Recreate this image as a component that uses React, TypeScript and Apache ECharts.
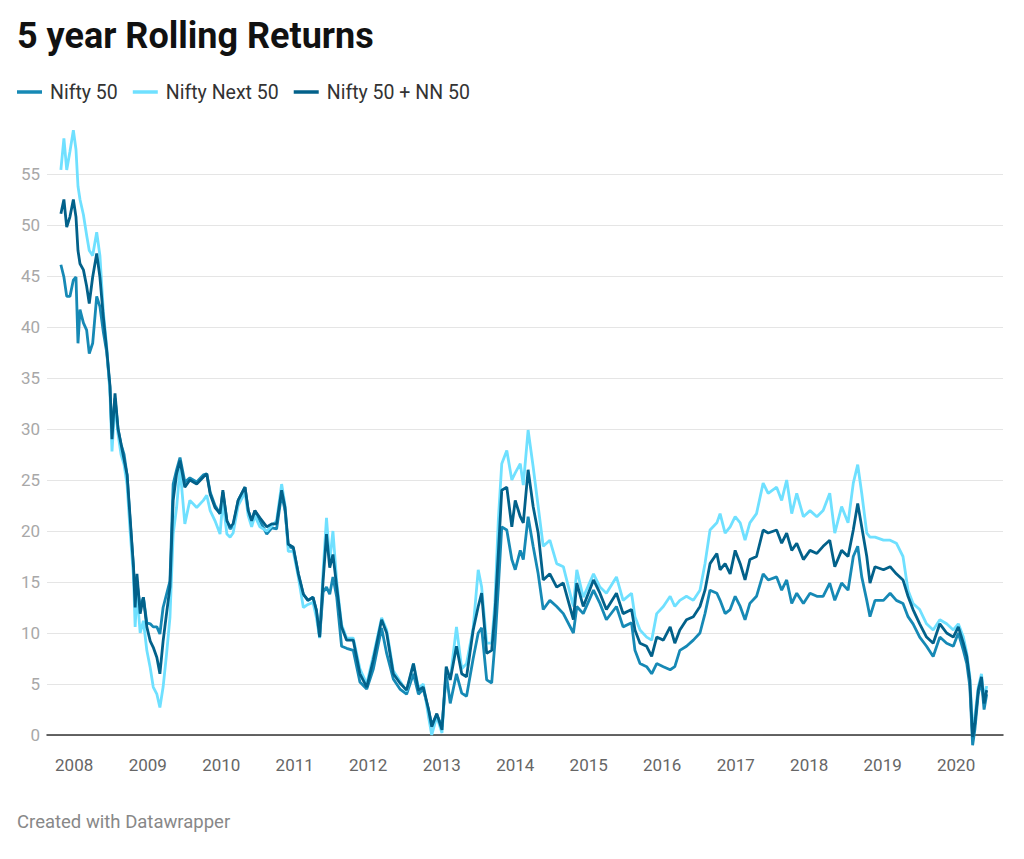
import { useEffect, useRef } from "react";
import * as echarts from "echarts";

const dates = [
  "2007-10-27", "2007-11-11", "2007-11-25", "2007-12-11", "2007-12-28", "2008-01-10", "2008-01-20", "2008-01-30",
  "2008-02-16", "2008-03-03", "2008-03-16", "2008-04-02", "2008-04-22", "2008-05-08", "2008-05-25", "2008-06-11",
  "2008-06-27", "2008-07-07", "2008-07-22", "2008-08-06", "2008-08-21", "2008-09-05", "2008-09-20", "2008-10-05",
  "2008-10-22", "2008-10-30", "2008-11-08", "2008-11-24", "2008-12-10", "2008-12-27", "2009-01-13", "2009-01-28",
  "2009-02-15", "2009-03-02", "2009-03-18", "2009-04-04", "2009-04-21", "2009-05-07", "2009-05-24", "2009-06-10",
  "2009-07-04", "2009-07-29", "2009-09-01", "2009-10-04", "2009-10-21", "2009-11-07", "2009-12-01", "2009-12-26",
  "2010-01-09", "2010-01-29", "2010-02-14", "2010-03-01", "2010-03-26", "2010-04-29", "2010-05-15", "2010-06-01",
  "2010-06-17", "2010-07-12", "2010-08-15", "2010-09-09", "2010-10-03", "2010-10-28", "2010-11-14", "2010-11-30",
  "2010-12-25", "2011-01-19", "2011-02-13", "2011-03-08", "2011-04-02", "2011-04-19", "2011-05-05", "2011-05-22",
  "2011-06-08", "2011-06-24", "2011-07-10", "2011-07-29", "2011-08-22", "2011-09-16", "2011-10-19", "2011-11-21",
  "2011-12-25", "2012-01-27", "2012-03-08", "2012-04-02", "2012-05-05", "2012-06-07", "2012-07-10", "2012-08-13",
  "2012-09-07", "2012-10-01", "2012-10-27", "2012-11-12", "2012-12-07", "2013-01-02", "2013-01-23", "2013-02-12",
  "2013-03-15", "2013-04-10", "2013-05-04", "2013-06-06", "2013-07-01", "2013-07-18", "2013-08-12", "2013-09-06",
  "2013-09-22", "2013-10-09", "2013-10-26", "2013-11-20", "2013-12-15", "2014-01-01", "2014-01-26", "2014-02-10",
  "2014-03-06", "2014-03-31", "2014-04-25", "2014-05-20", "2014-06-22", "2014-07-26", "2014-08-28", "2014-10-17",
  "2014-11-03", "2014-12-05", "2015-01-25", "2015-02-26", "2015-03-30", "2015-05-19", "2015-06-21", "2015-08-02",
  "2015-08-19", "2015-09-13", "2015-10-16", "2015-11-10", "2015-12-05", "2016-01-07", "2016-02-10", "2016-03-04",
  "2016-03-29", "2016-05-01", "2016-06-04", "2016-07-07", "2016-08-01", "2016-08-26", "2016-09-29", "2016-10-15",
  "2016-11-09", "2016-12-04", "2016-12-29", "2017-01-23", "2017-02-16", "2017-03-12", "2017-04-14", "2017-05-17",
  "2017-06-11", "2017-07-23", "2017-08-17", "2017-09-11", "2017-10-06", "2017-10-31", "2017-12-03", "2018-01-05",
  "2018-02-08", "2018-03-11", "2018-04-13", "2018-05-08", "2018-06-11", "2018-07-13", "2018-08-08", "2018-08-30",
  "2018-09-19", "2018-10-14", "2018-10-30", "2018-11-24", "2019-01-05", "2019-02-07", "2019-03-10", "2019-04-12",
  "2019-05-07", "2019-06-01", "2019-07-04", "2019-08-07", "2019-09-09", "2019-10-12", "2019-11-15", "2019-12-18",
  "2020-01-12", "2020-02-06", "2020-02-23", "2020-03-09", "2020-03-23", "2020-04-03", "2020-04-20", "2020-05-06",
  "2020-05-19", "2020-06-01",
];

const nifty50 = [
  46.1, 44.9, 43.0, 43.0, 44.6, 44.9, 38.4, 41.7, 40.4, 39.7, 37.4, 38.4, 43.0, 42.0, 39.5, 37.5,
  34.0, 29.5, 33.0, 30.0, 28.5, 27.5, 25.5, 21.0, 16.4, 13.0, 15.0, 12.5, 13.5, 11.0, 10.9, 10.6,
  10.6, 9.9, 12.5, 13.8, 15.1, 24.6, 26.0, 27.2, 24.8, 25.2, 24.8, 25.5, 25.6, 23.8, 22.5, 21.7,
  23.8, 21.0, 20.2, 20.5, 23.0, 24.3, 22.0, 21.0, 22.0, 21.0, 19.7, 20.3, 20.2, 23.6, 22.0, 18.5,
  18.3, 15.8, 13.8, 13.2, 13.5, 12.2, 9.6, 14.0, 14.5, 13.8, 15.5, 13.5, 8.7, 8.5, 8.3, 5.2,
  4.5, 6.5, 10.5, 8.0, 5.5, 4.5, 4.0, 6.0, 4.0, 4.5, 2.5, 1.0, 2.0, 0.8, 6.0, 3.1,
  6.0, 4.1, 3.8, 7.5, 10.0, 10.5, 5.4, 5.1, 9.0, 14.5, 20.4, 20.1, 17.2, 16.2, 18.1, 17.2,
  21.4, 18.5, 15.8, 12.3, 13.2, 12.6, 11.9, 10.0, 12.6, 11.9, 14.2, 12.9, 11.3, 12.6, 10.6, 11.0,
  8.3, 7.0, 6.7, 6.0, 7.0, 6.7, 6.4, 6.7, 8.3, 8.7, 9.3, 10.0, 11.9, 14.2, 13.9, 13.2,
  11.9, 12.3, 13.6, 12.6, 11.3, 12.9, 13.6, 15.8, 15.2, 15.5, 14.2, 15.2, 12.9, 13.9, 12.9, 13.9,
  13.6, 13.6, 14.9, 13.2, 14.9, 14.2, 17.5, 18.5, 15.5, 13.2, 11.6, 13.2, 13.2, 13.9, 13.2, 12.9,
  11.6, 10.9, 9.6, 8.7, 7.7, 9.6, 9.0, 8.7, 10.0, 8.3, 7.0, 4.8, -1.0, 0.5, 4.0, 5.3,
  2.5, 4.0,
];

const niftyNext50 = [
  55.4, 58.5, 55.4, 57.2, 59.3, 57.4, 53.8, 52.5, 51.0, 49.0, 47.5, 47.0, 49.3, 47.0, 41.5, 38.0,
  33.5, 27.8, 32.5, 29.5, 27.5, 26.5, 24.5, 20.0, 15.5, 10.6, 14.0, 10.0, 11.2, 8.3, 6.6, 4.7,
  4.0, 2.7, 4.7, 7.9, 11.5, 19.7, 22.3, 26.2, 20.7, 23.0, 22.3, 23.0, 23.5, 22.0, 21.0, 19.7,
  23.0, 19.7, 19.4, 19.8, 22.5, 23.8, 21.5, 20.4, 21.5, 20.4, 20.0, 20.5, 21.0, 24.6, 22.5, 18.0,
  18.0, 15.5, 12.5, 12.8, 13.0, 11.5, 9.5, 16.0, 21.3, 17.0, 20.0, 15.0, 10.8, 9.5, 9.5, 6.5,
  5.0, 7.8, 11.5, 10.3, 6.3, 5.3, 4.3, 7.0, 4.6, 5.0, 1.8, 0.0, 1.8, 0.2, 6.5, 5.5,
  10.6, 6.5, 7.0, 10.5, 16.2, 14.5, 9.0, 9.0, 13.0, 21.1, 26.6, 27.9, 25.0, 25.7, 26.6, 24.5,
  29.9, 26.3, 22.4, 18.5, 19.1, 16.8, 16.5, 12.6, 16.2, 13.5, 15.8, 14.5, 13.9, 15.5, 13.2, 13.9,
  11.6, 10.3, 9.6, 9.3, 11.9, 12.6, 13.6, 12.6, 13.2, 13.6, 13.2, 14.2, 16.8, 20.1, 20.8, 21.7,
  19.8, 20.4, 21.4, 20.8, 19.1, 20.8, 21.7, 24.7, 23.7, 24.3, 23.0, 25.0, 21.7, 23.7, 21.4, 22.0,
  21.4, 22.0, 23.7, 19.8, 22.4, 20.8, 24.7, 26.5, 23.7, 19.8, 19.4, 19.4, 19.1, 19.1, 18.8, 17.5,
  14.2, 12.9, 12.3, 10.9, 10.3, 11.3, 10.9, 10.3, 10.9, 9.6, 8.0, 5.8, 0.5, 1.8, 4.7, 6.0,
  3.5, 4.8,
];

const nifty50PlusNN50 = [
  51.1, 52.5, 49.8, 50.8, 52.5, 50.8, 47.5, 46.2, 45.6, 44.0, 42.3, 44.9, 47.2, 44.9, 41.0, 37.7,
  34.2, 29.0, 33.5, 30.0, 28.5, 27.0, 25.5, 21.3, 16.4, 12.5, 15.8, 11.9, 13.5, 10.6, 9.2, 8.6,
  7.6, 6.0, 9.2, 11.9, 14.5, 23.0, 25.6, 26.9, 24.3, 25.0, 24.6, 25.3, 25.6, 23.6, 22.3, 21.7,
  24.0, 21.0, 20.4, 20.7, 23.0, 24.3, 22.0, 21.0, 22.0, 21.3, 20.4, 20.7, 20.7, 24.0, 22.3, 18.7,
  18.4, 15.8, 13.8, 13.2, 13.5, 12.2, 9.6, 15.1, 19.7, 16.4, 17.7, 14.5, 10.6, 9.3, 9.3, 6.0,
  4.7, 7.4, 11.3, 10.0, 6.0, 5.1, 4.4, 7.0, 4.4, 4.7, 2.5, 0.8, 2.1, 0.5, 6.7, 5.4,
  8.7, 6.0, 5.7, 10.3, 12.6, 13.9, 8.0, 8.3, 11.9, 17.8, 24.0, 24.3, 20.4, 23.0, 21.4, 20.8,
  26.0, 22.4, 19.8, 15.2, 15.8, 14.5, 14.9, 11.3, 14.9, 12.6, 15.2, 13.9, 12.3, 13.9, 11.9, 12.3,
  10.3, 9.0, 8.7, 7.7, 9.6, 9.3, 10.6, 9.0, 10.3, 11.3, 11.6, 12.6, 14.2, 16.8, 17.8, 16.2,
  16.8, 15.8, 18.1, 16.8, 15.2, 17.2, 17.5, 20.1, 19.8, 20.1, 18.8, 19.8, 18.1, 18.8, 17.2, 18.1,
  17.8, 18.5, 19.1, 16.5, 18.1, 17.5, 20.1, 22.7, 20.4, 17.5, 14.9, 16.5, 16.2, 16.5, 15.8, 15.2,
  13.6, 12.3, 10.9, 9.6, 9.0, 10.9, 10.0, 9.6, 10.6, 9.0, 7.7, 5.4, -0.2, 1.1, 4.4, 5.7,
  3.1, 4.4,
];

const seriesNames = ["Nifty 50", "Nifty Next 50", "Nifty 50 + NN 50"];
const seriesColors = ["#1689b5", "#6fe0ff", "#02618a"];
const yTicks = { min: 0, max: 60, interval: 5 };
const xRange = { min: "2007-08-19", max: "2020-08-21" };

const FONT = "Roboto, 'Noto Sans', sans-serif";

export default function App() {
  const ref = useRef<HTMLDivElement>(null);

  useEffect(() => {
    document.body.style.margin = "0";
    if (!ref.current) return;
    const chart = echarts.init(ref.current, undefined, { renderer: "svg" });

    const values = [nifty50, niftyNext50, nifty50PlusNN50];

    chart.setOption({
      animation: false,
      backgroundColor: "#ffffff",
      textStyle: { fontFamily: FONT },
      title: {
        text: "5 year Rolling Returns",
        left: 17,
        top: 18,
        padding: 0,
        textStyle: { fontSize: 36, fontWeight: "bold", color: "#111111", fontFamily: FONT },
      },
      legend: {
        left: 17,
        top: 82,
        padding: 0,
        itemGap: 15,
        itemWidth: 25,
        itemHeight: 3.5,
        icon: "rect",
        data: seriesNames,
        textStyle: { fontSize: 19.5, color: "#333333", fontFamily: FONT, padding: [0, 0, 0, 3] },
      },
      grid: { left: 47, right: 21, top: 123, bottom: 124 },
      xAxis: {
        type: "time",
        min: xRange.min,
        max: xRange.max,
        splitNumber: 13,
        minInterval: 365 * 24 * 3600 * 1000,
        maxInterval: 366 * 24 * 3600 * 1000,
        axisLine: { show: true, onZero: false, lineStyle: { color: "#333333", width: 1.5 } },
        axisTick: { show: false },
        splitLine: { show: false },
        axisLabel: {
          showMinLabel: false,
          showMaxLabel: false,
          color: "#666666",
          fontSize: 17,
          fontFamily: FONT,
          margin: 21,
          formatter: (v: number) => {
            const d = new Date(v);
            return d.getMonth() === 0 && d.getDate() === 1 ? String(d.getFullYear()) : "";
          },
        },
      },
      yAxis: {
        type: "value",
        min: yTicks.min,
        max: yTicks.max,
        interval: yTicks.interval,
        axisLine: { show: false },
        axisTick: { show: false },
        splitLine: { show: true, showMaxLine: false, lineStyle: { color: "#e5e5e5", width: 1 } },
        axisLabel: {
          showMaxLabel: false,
          color: "#a8a8a8",
          fontSize: 17,
          fontFamily: FONT,
          margin: 7,
        },
      },
      graphic: [
        {
          type: "text",
          left: 17,
          top: 812,
          style: { text: "Created with Datawrapper", fill: "#888888", fontSize: 18.5, fontFamily: FONT },
        },
      ],
      series: seriesNames.map((name, i) => ({
        name,
        type: "line",
        data: dates.map((d, j) => [d, values[i][j]]),
        showSymbol: false,
        symbol: "none",
        clip: false,
        lineStyle: { color: seriesColors[i], width: 2.8 },
        itemStyle: { color: seriesColors[i] },
        z: 2 + i,
      })),
    });

    return () => chart.dispose();
  }, []);

  return <div ref={ref} style={{ width: 1024, height: 859 }} />;
}
